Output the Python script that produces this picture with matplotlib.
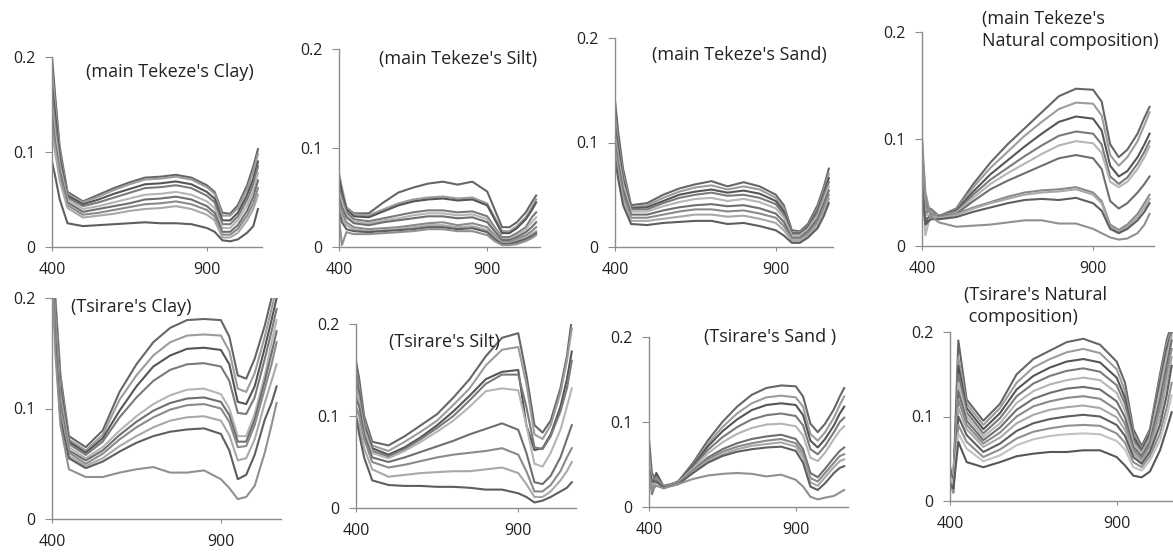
import matplotlib.pyplot as plt

plt.rcParams['font.family'] = ['Open Sans', 'DejaVu Sans']

W, H = 1173, 554

# wavelength sampling (nm) used for every curve
wl = [400, 410, 425, 450, 500, 550, 600, 650, 700, 750, 800, 850, 900, 925, 950, 975, 1000, 1030, 1050, 1065]

# main Tekeze's Clay
tekeze_clay = [
    [0.200, 0.160, 0.105, 0.058, 0.048, 0.055, 0.062, 0.068, 0.073, 0.074, 0.076, 0.073, 0.065, 0.058, 0.036, 0.035, 0.044, 0.065, 0.085, 0.103],
    [0.185, 0.150, 0.100, 0.056, 0.047, 0.053, 0.060, 0.066, 0.071, 0.072, 0.074, 0.071, 0.063, 0.056, 0.033, 0.033, 0.041, 0.061, 0.080, 0.098],
    [0.170, 0.140, 0.095, 0.054, 0.045, 0.050, 0.056, 0.061, 0.066, 0.067, 0.069, 0.066, 0.058, 0.051, 0.028, 0.028, 0.036, 0.055, 0.072, 0.090],
    [0.160, 0.130, 0.090, 0.052, 0.043, 0.047, 0.052, 0.057, 0.062, 0.063, 0.065, 0.062, 0.054, 0.047, 0.024, 0.024, 0.032, 0.050, 0.066, 0.085],
    [0.150, 0.120, 0.085, 0.050, 0.040, 0.043, 0.047, 0.051, 0.055, 0.056, 0.058, 0.055, 0.048, 0.041, 0.020, 0.020, 0.028, 0.044, 0.060, 0.078],
    [0.140, 0.110, 0.080, 0.047, 0.037, 0.040, 0.043, 0.046, 0.050, 0.051, 0.053, 0.050, 0.043, 0.036, 0.016, 0.016, 0.023, 0.038, 0.053, 0.070],
    [0.130, 0.105, 0.075, 0.044, 0.034, 0.036, 0.039, 0.042, 0.045, 0.046, 0.048, 0.045, 0.039, 0.032, 0.013, 0.013, 0.019, 0.033, 0.046, 0.062],
    [0.120, 0.100, 0.070, 0.041, 0.031, 0.033, 0.035, 0.038, 0.040, 0.041, 0.043, 0.040, 0.034, 0.028, 0.010, 0.010, 0.015, 0.028, 0.040, 0.055],
    [0.090, 0.075, 0.050, 0.025, 0.022, 0.023, 0.024, 0.025, 0.026, 0.025, 0.025, 0.024, 0.020, 0.016, 0.007, 0.006, 0.008, 0.015, 0.022, 0.040],
]

# main Tekeze's Silt
tekeze_silt = [
    [0.065, 0.055, 0.040, 0.034, 0.034, 0.045, 0.055, 0.060, 0.064, 0.066, 0.063, 0.066, 0.056, 0.038, 0.020, 0.020, 0.025, 0.035, 0.045, 0.052],
    [0.075, 0.060, 0.040, 0.033, 0.032, 0.038, 0.044, 0.048, 0.050, 0.051, 0.049, 0.050, 0.044, 0.030, 0.016, 0.016, 0.021, 0.030, 0.040, 0.048],
    [0.070, 0.055, 0.038, 0.031, 0.030, 0.036, 0.042, 0.046, 0.048, 0.049, 0.047, 0.048, 0.042, 0.028, 0.014, 0.014, 0.019, 0.028, 0.037, 0.045],
    [0.060, 0.050, 0.035, 0.028, 0.026, 0.029, 0.032, 0.035, 0.037, 0.037, 0.035, 0.036, 0.031, 0.020, 0.010, 0.010, 0.014, 0.020, 0.030, 0.035],
    [0.055, 0.045, 0.032, 0.026, 0.024, 0.027, 0.029, 0.032, 0.034, 0.034, 0.032, 0.033, 0.028, 0.018, 0.008, 0.008, 0.012, 0.018, 0.025, 0.030],
    [0.050, 0.040, 0.030, 0.024, 0.022, 0.025, 0.027, 0.029, 0.031, 0.031, 0.029, 0.030, 0.025, 0.016, 0.007, 0.007, 0.010, 0.015, 0.020, 0.025],
    [0.045, 0.035, 0.025, 0.020, 0.018, 0.019, 0.020, 0.022, 0.024, 0.025, 0.022, 0.024, 0.020, 0.012, 0.005, 0.005, 0.008, 0.012, 0.016, 0.020],
    [0.040, 0.030, 0.022, 0.018, 0.016, 0.017, 0.018, 0.020, 0.022, 0.022, 0.020, 0.021, 0.017, 0.010, 0.004, 0.004, 0.006, 0.010, 0.013, 0.016],
    [0.035, 0.025, 0.018, 0.016, 0.015, 0.016, 0.017, 0.018, 0.020, 0.020, 0.018, 0.019, 0.015, 0.008, 0.003, 0.003, 0.005, 0.008, 0.011, 0.014],
    [0.030, 0.002, 0.015, 0.013, 0.013, 0.014, 0.015, 0.016, 0.018, 0.018, 0.016, 0.016, 0.012, 0.006, 0.002, 0.002, 0.003, 0.006, 0.009, 0.012],
]

# main Tekeze's Sand
tekeze_sand = [
    [0.140, 0.110, 0.075, 0.040, 0.042, 0.050, 0.056, 0.060, 0.063, 0.058, 0.062, 0.058, 0.050, 0.040, 0.016, 0.015, 0.022, 0.040, 0.058, 0.075],
    [0.125, 0.100, 0.070, 0.038, 0.040, 0.047, 0.053, 0.057, 0.059, 0.055, 0.058, 0.055, 0.047, 0.037, 0.014, 0.014, 0.020, 0.037, 0.055, 0.070],
    [0.115, 0.095, 0.065, 0.037, 0.038, 0.044, 0.050, 0.053, 0.055, 0.052, 0.054, 0.051, 0.044, 0.034, 0.013, 0.013, 0.019, 0.035, 0.052, 0.066],
    [0.110, 0.090, 0.062, 0.036, 0.036, 0.042, 0.047, 0.050, 0.052, 0.049, 0.050, 0.047, 0.041, 0.031, 0.012, 0.012, 0.018, 0.033, 0.050, 0.062],
    [0.105, 0.085, 0.060, 0.034, 0.034, 0.039, 0.043, 0.046, 0.047, 0.044, 0.046, 0.043, 0.037, 0.028, 0.011, 0.011, 0.017, 0.030, 0.046, 0.058],
    [0.100, 0.080, 0.055, 0.031, 0.031, 0.035, 0.038, 0.040, 0.041, 0.039, 0.040, 0.037, 0.032, 0.024, 0.009, 0.009, 0.015, 0.027, 0.042, 0.054],
    [0.095, 0.075, 0.050, 0.028, 0.028, 0.031, 0.034, 0.036, 0.036, 0.034, 0.035, 0.032, 0.028, 0.020, 0.008, 0.008, 0.013, 0.024, 0.038, 0.050],
    [0.090, 0.070, 0.045, 0.025, 0.025, 0.027, 0.029, 0.031, 0.031, 0.029, 0.030, 0.027, 0.023, 0.016, 0.006, 0.006, 0.011, 0.021, 0.034, 0.046],
    [0.085, 0.065, 0.040, 0.022, 0.021, 0.023, 0.024, 0.025, 0.025, 0.022, 0.023, 0.020, 0.016, 0.011, 0.004, 0.004, 0.009, 0.018, 0.030, 0.042],
]

# main Tekeze's Natural composition
tekeze_natural = [
    [0.080, 0.040, 0.030, 0.028, 0.035, 0.058, 0.078, 0.095, 0.110, 0.125, 0.140, 0.147, 0.146, 0.135, 0.095, 0.083, 0.090, 0.105, 0.120, 0.130],
    [0.090, 0.035, 0.032, 0.028, 0.034, 0.055, 0.073, 0.088, 0.103, 0.116, 0.128, 0.134, 0.133, 0.122, 0.085, 0.075, 0.083, 0.098, 0.113, 0.125],
    [0.070, 0.020, 0.030, 0.028, 0.033, 0.051, 0.067, 0.080, 0.093, 0.105, 0.116, 0.121, 0.119, 0.108, 0.075, 0.065, 0.070, 0.083, 0.095, 0.105],
    [0.100, 0.030, 0.035, 0.028, 0.032, 0.048, 0.062, 0.073, 0.084, 0.094, 0.103, 0.107, 0.105, 0.095, 0.065, 0.058, 0.064, 0.077, 0.088, 0.098],
    [0.060, 0.010, 0.030, 0.028, 0.031, 0.045, 0.058, 0.068, 0.077, 0.086, 0.094, 0.098, 0.096, 0.087, 0.060, 0.055, 0.060, 0.072, 0.083, 0.093],
    [0.050, 0.025, 0.028, 0.028, 0.030, 0.042, 0.053, 0.061, 0.068, 0.075, 0.082, 0.085, 0.082, 0.072, 0.042, 0.035, 0.040, 0.050, 0.058, 0.065],
    [0.090, 0.045, 0.030, 0.027, 0.030, 0.036, 0.041, 0.046, 0.050, 0.052, 0.053, 0.055, 0.050, 0.042, 0.020, 0.015, 0.020, 0.030, 0.040, 0.048],
    [0.070, 0.030, 0.028, 0.026, 0.029, 0.035, 0.040, 0.044, 0.048, 0.050, 0.051, 0.053, 0.048, 0.040, 0.018, 0.013, 0.018, 0.027, 0.036, 0.044],
    [0.060, 0.020, 0.025, 0.025, 0.027, 0.032, 0.036, 0.040, 0.043, 0.044, 0.043, 0.045, 0.040, 0.033, 0.016, 0.012, 0.016, 0.024, 0.032, 0.040],
    [0.100, 0.050, 0.028, 0.022, 0.018, 0.019, 0.020, 0.022, 0.024, 0.024, 0.021, 0.021, 0.016, 0.012, 0.008, 0.006, 0.007, 0.012, 0.020, 0.030],
]

# Tsirare's Clay
tsirare_clay = [
    [0.230, 0.200, 0.130, 0.075, 0.065, 0.080, 0.115, 0.140, 0.160, 0.173, 0.180, 0.181, 0.180, 0.165, 0.130, 0.127, 0.145, 0.175, 0.200, 0.220],
    [0.230, 0.195, 0.125, 0.072, 0.062, 0.076, 0.108, 0.130, 0.148, 0.160, 0.166, 0.167, 0.166, 0.152, 0.118, 0.115, 0.132, 0.165, 0.190, 0.210],
    [0.230, 0.190, 0.120, 0.070, 0.060, 0.073, 0.098, 0.120, 0.138, 0.148, 0.154, 0.155, 0.153, 0.140, 0.106, 0.104, 0.120, 0.155, 0.180, 0.200],
    [0.230, 0.185, 0.115, 0.068, 0.058, 0.070, 0.092, 0.110, 0.125, 0.135, 0.140, 0.141, 0.138, 0.125, 0.096, 0.095, 0.110, 0.145, 0.170, 0.190],
    [0.230, 0.180, 0.110, 0.065, 0.055, 0.065, 0.080, 0.093, 0.104, 0.112, 0.117, 0.118, 0.113, 0.100, 0.075, 0.075, 0.095, 0.130, 0.160, 0.180],
    [0.230, 0.175, 0.105, 0.062, 0.053, 0.062, 0.076, 0.088, 0.098, 0.105, 0.109, 0.110, 0.106, 0.094, 0.070, 0.070, 0.090, 0.125, 0.150, 0.170],
    [0.230, 0.170, 0.100, 0.060, 0.050, 0.059, 0.072, 0.083, 0.092, 0.099, 0.103, 0.104, 0.100, 0.088, 0.065, 0.066, 0.085, 0.118, 0.140, 0.160],
    [0.230, 0.165, 0.095, 0.057, 0.048, 0.055, 0.066, 0.075, 0.083, 0.089, 0.092, 0.093, 0.089, 0.076, 0.053, 0.055, 0.072, 0.105, 0.125, 0.140],
    [0.230, 0.160, 0.090, 0.055, 0.046, 0.052, 0.061, 0.069, 0.075, 0.079, 0.081, 0.082, 0.077, 0.062, 0.036, 0.040, 0.058, 0.090, 0.105, 0.120],
    [0.230, 0.150, 0.085, 0.045, 0.038, 0.038, 0.042, 0.045, 0.047, 0.042, 0.042, 0.044, 0.036, 0.028, 0.018, 0.020, 0.030, 0.060, 0.085, 0.105],
]

# Tsirare's Silt
tsirare_silt = [
    [0.160, 0.140, 0.100, 0.072, 0.068, 0.078, 0.090, 0.102, 0.120, 0.140, 0.165, 0.185, 0.190, 0.145, 0.090, 0.082, 0.095, 0.130, 0.165, 0.205],
    [0.150, 0.130, 0.095, 0.068, 0.062, 0.072, 0.083, 0.095, 0.112, 0.130, 0.155, 0.172, 0.175, 0.135, 0.080, 0.075, 0.090, 0.125, 0.160, 0.195],
    [0.140, 0.125, 0.090, 0.065, 0.058, 0.066, 0.077, 0.090, 0.105, 0.122, 0.140, 0.148, 0.150, 0.090, 0.063, 0.065, 0.080, 0.110, 0.140, 0.170],
    [0.150, 0.120, 0.088, 0.062, 0.056, 0.064, 0.075, 0.087, 0.100, 0.117, 0.135, 0.145, 0.145, 0.110, 0.066, 0.064, 0.078, 0.105, 0.130, 0.160],
    [0.130, 0.115, 0.085, 0.060, 0.054, 0.062, 0.072, 0.083, 0.095, 0.110, 0.127, 0.130, 0.128, 0.090, 0.048, 0.045, 0.060, 0.085, 0.110, 0.130],
    [0.120, 0.110, 0.080, 0.055, 0.050, 0.055, 0.061, 0.067, 0.073, 0.080, 0.086, 0.092, 0.085, 0.060, 0.028, 0.026, 0.035, 0.055, 0.075, 0.090],
    [0.110, 0.100, 0.075, 0.050, 0.044, 0.047, 0.051, 0.055, 0.058, 0.060, 0.062, 0.065, 0.058, 0.040, 0.018, 0.018, 0.025, 0.040, 0.055, 0.065],
    [0.100, 0.090, 0.065, 0.042, 0.034, 0.036, 0.038, 0.039, 0.040, 0.040, 0.042, 0.044, 0.038, 0.026, 0.012, 0.012, 0.018, 0.030, 0.040, 0.050],
    [0.100, 0.080, 0.055, 0.030, 0.025, 0.024, 0.024, 0.023, 0.023, 0.022, 0.020, 0.020, 0.016, 0.012, 0.006, 0.008, 0.012, 0.018, 0.022, 0.028],
]

# Tsirare's Sand
tsirare_sand = [
    [0.050, 0.020, 0.035, 0.022, 0.030, 0.052, 0.078, 0.100, 0.118, 0.132, 0.140, 0.143, 0.142, 0.130, 0.098, 0.088, 0.098, 0.115, 0.130, 0.140],
    [0.060, 0.030, 0.030, 0.023, 0.030, 0.050, 0.074, 0.094, 0.110, 0.122, 0.129, 0.131, 0.129, 0.118, 0.086, 0.078, 0.088, 0.105, 0.120, 0.130],
    [0.040, 0.025, 0.040, 0.024, 0.030, 0.049, 0.071, 0.089, 0.103, 0.114, 0.120, 0.122, 0.120, 0.108, 0.078, 0.070, 0.080, 0.096, 0.110, 0.118],
    [0.055, 0.015, 0.030, 0.024, 0.029, 0.047, 0.067, 0.082, 0.094, 0.103, 0.108, 0.110, 0.107, 0.096, 0.068, 0.062, 0.072, 0.088, 0.100, 0.105],
    [0.045, 0.030, 0.025, 0.025, 0.029, 0.045, 0.063, 0.076, 0.086, 0.093, 0.097, 0.098, 0.095, 0.084, 0.058, 0.054, 0.064, 0.080, 0.090, 0.095],
    [0.080, 0.040, 0.030, 0.025, 0.028, 0.043, 0.058, 0.068, 0.075, 0.080, 0.083, 0.085, 0.080, 0.068, 0.040, 0.035, 0.045, 0.058, 0.066, 0.070],
    [0.050, 0.020, 0.035, 0.024, 0.028, 0.042, 0.056, 0.065, 0.071, 0.075, 0.078, 0.080, 0.075, 0.063, 0.034, 0.030, 0.040, 0.052, 0.060, 0.062],
    [0.060, 0.025, 0.030, 0.024, 0.027, 0.041, 0.054, 0.062, 0.068, 0.072, 0.074, 0.076, 0.071, 0.058, 0.029, 0.025, 0.035, 0.047, 0.054, 0.056],
    [0.045, 0.030, 0.030, 0.023, 0.027, 0.040, 0.052, 0.060, 0.065, 0.068, 0.070, 0.071, 0.066, 0.052, 0.024, 0.020, 0.028, 0.040, 0.046, 0.048],
    [0.040, 0.020, 0.025, 0.022, 0.027, 0.033, 0.037, 0.039, 0.040, 0.039, 0.036, 0.038, 0.032, 0.024, 0.012, 0.009, 0.011, 0.013, 0.017, 0.020],
]

# Tsirare's Natural composition
tsirare_natural = [
    [0.030, 0.020, 0.190, 0.120, 0.095, 0.115, 0.150, 0.168, 0.178, 0.188, 0.192, 0.185, 0.165, 0.140, 0.085, 0.065, 0.085, 0.150, 0.190, 0.210],
    [0.020, 0.010, 0.170, 0.115, 0.090, 0.110, 0.140, 0.158, 0.168, 0.176, 0.180, 0.175, 0.156, 0.130, 0.080, 0.062, 0.082, 0.145, 0.185, 0.205],
    [0.040, 0.015, 0.160, 0.110, 0.085, 0.104, 0.132, 0.148, 0.158, 0.165, 0.168, 0.164, 0.146, 0.122, 0.076, 0.060, 0.080, 0.140, 0.180, 0.200],
    [0.025, 0.030, 0.150, 0.105, 0.080, 0.098, 0.124, 0.139, 0.148, 0.154, 0.157, 0.153, 0.137, 0.115, 0.072, 0.058, 0.077, 0.135, 0.175, 0.200],
    [0.035, 0.010, 0.140, 0.100, 0.076, 0.092, 0.116, 0.130, 0.138, 0.143, 0.146, 0.143, 0.128, 0.107, 0.068, 0.056, 0.074, 0.130, 0.170, 0.195],
    [0.015, 0.025, 0.130, 0.095, 0.072, 0.087, 0.108, 0.121, 0.128, 0.133, 0.135, 0.132, 0.118, 0.099, 0.064, 0.053, 0.070, 0.120, 0.160, 0.190],
    [0.030, 0.015, 0.120, 0.090, 0.068, 0.081, 0.100, 0.112, 0.118, 0.122, 0.124, 0.121, 0.108, 0.091, 0.060, 0.050, 0.066, 0.110, 0.150, 0.180],
    [0.020, 0.035, 0.110, 0.085, 0.064, 0.075, 0.092, 0.102, 0.108, 0.111, 0.113, 0.110, 0.099, 0.084, 0.056, 0.047, 0.062, 0.100, 0.140, 0.170],
    [0.040, 0.020, 0.100, 0.078, 0.058, 0.068, 0.083, 0.092, 0.097, 0.100, 0.102, 0.100, 0.090, 0.077, 0.052, 0.044, 0.058, 0.090, 0.125, 0.160],
    [0.025, 0.010, 0.090, 0.070, 0.052, 0.061, 0.074, 0.082, 0.086, 0.089, 0.090, 0.089, 0.080, 0.069, 0.046, 0.040, 0.053, 0.080, 0.110, 0.140],
    [0.030, 0.020, 0.080, 0.062, 0.047, 0.054, 0.066, 0.073, 0.077, 0.079, 0.080, 0.079, 0.071, 0.061, 0.040, 0.036, 0.048, 0.072, 0.100, 0.125],
    [0.020, 0.015, 0.070, 0.046, 0.040, 0.046, 0.053, 0.056, 0.058, 0.058, 0.060, 0.060, 0.052, 0.042, 0.030, 0.028, 0.035, 0.060, 0.085, 0.105],
]

titles = ["(main Tekeze's Clay)", "(main Tekeze's Silt)", "(main Tekeze's Sand)",
          "(main Tekeze's\nNatural composition)",
          "(Tsirare's Clay)", "(Tsirare's Silt)", "(Tsirare's Sand )",
          "(Tsirare's Natural\n composition)"]
panels = [tekeze_clay, tekeze_silt, tekeze_sand, tekeze_natural,
          tsirare_clay, tsirare_silt, tsirare_sand, tsirare_natural]

# axes boxes in pixels: left, right, top(y=0.2), bottom(y=0)
boxes = [(52, 262, 57, 247), (339, 540, 49, 247), (615, 833, 38, 247), (922, 1154, 32, 246),
         (52, 281, 298, 519), (356, 576, 324, 508), (649, 848, 337, 507), (950, 1176, 332, 501)]
# title anchors (left, top) in pixels
title_pos = [(86, 63), (379, 50), (652, 46), (982, 10), (71, 298), (389, 333), (704, 328), (964, 286)]

greys = ['#666666', '#9c9c9c', '#555555', '#7a7a7a', '#b5b5b5', '#6f6f6f',
         '#8a8a8a', '#a8a8a8', '#5e5e5e', '#909090', '#c2c2c2', '#575757']

fig = plt.figure(figsize=(W / 100, H / 100), dpi=100)

for curves, title, (l, r, t, b), (tx, ty) in zip(panels, titles, boxes, title_pos):
    ax = fig.add_axes([l / W, 1 - b / H, (r - l) / W, (b - t) / H])
    for i, c in enumerate(curves):
        ax.plot(wl, c, color=greys[i % len(greys)], lw=1.5)
    ax.set_xlim(400, 1078)
    ax.set_ylim(0, 0.2)
    ax.set_xticks([400, 900])
    ax.set_xticklabels(['400', '900'])
    ax.set_yticks([0, 0.1, 0.2])
    ax.set_yticklabels(['0', '0.1', '0.2'])
    for s in ['top', 'right']:
        ax.spines[s].set_visible(False)
    for s in ['left', 'bottom']:
        ax.spines[s].set_color('#8c8c8c')
        ax.spines[s].set_linewidth(1.0)
    ax.tick_params(axis='y', length=5, color='#8c8c8c', pad=7, labelsize=11.5, labelcolor='#222222')
    ax.tick_params(axis='x', length=3, color='#8c8c8c', pad=8, labelsize=11.5, labelcolor='#222222')
    ax.set_facecolor('none')
    fig.text(tx / W, 1 - ty / H, title, ha='left', va='top', fontsize=13, color='#222222',
             linespacing=1.3)

plt.savefig('out.png', dpi=100)
